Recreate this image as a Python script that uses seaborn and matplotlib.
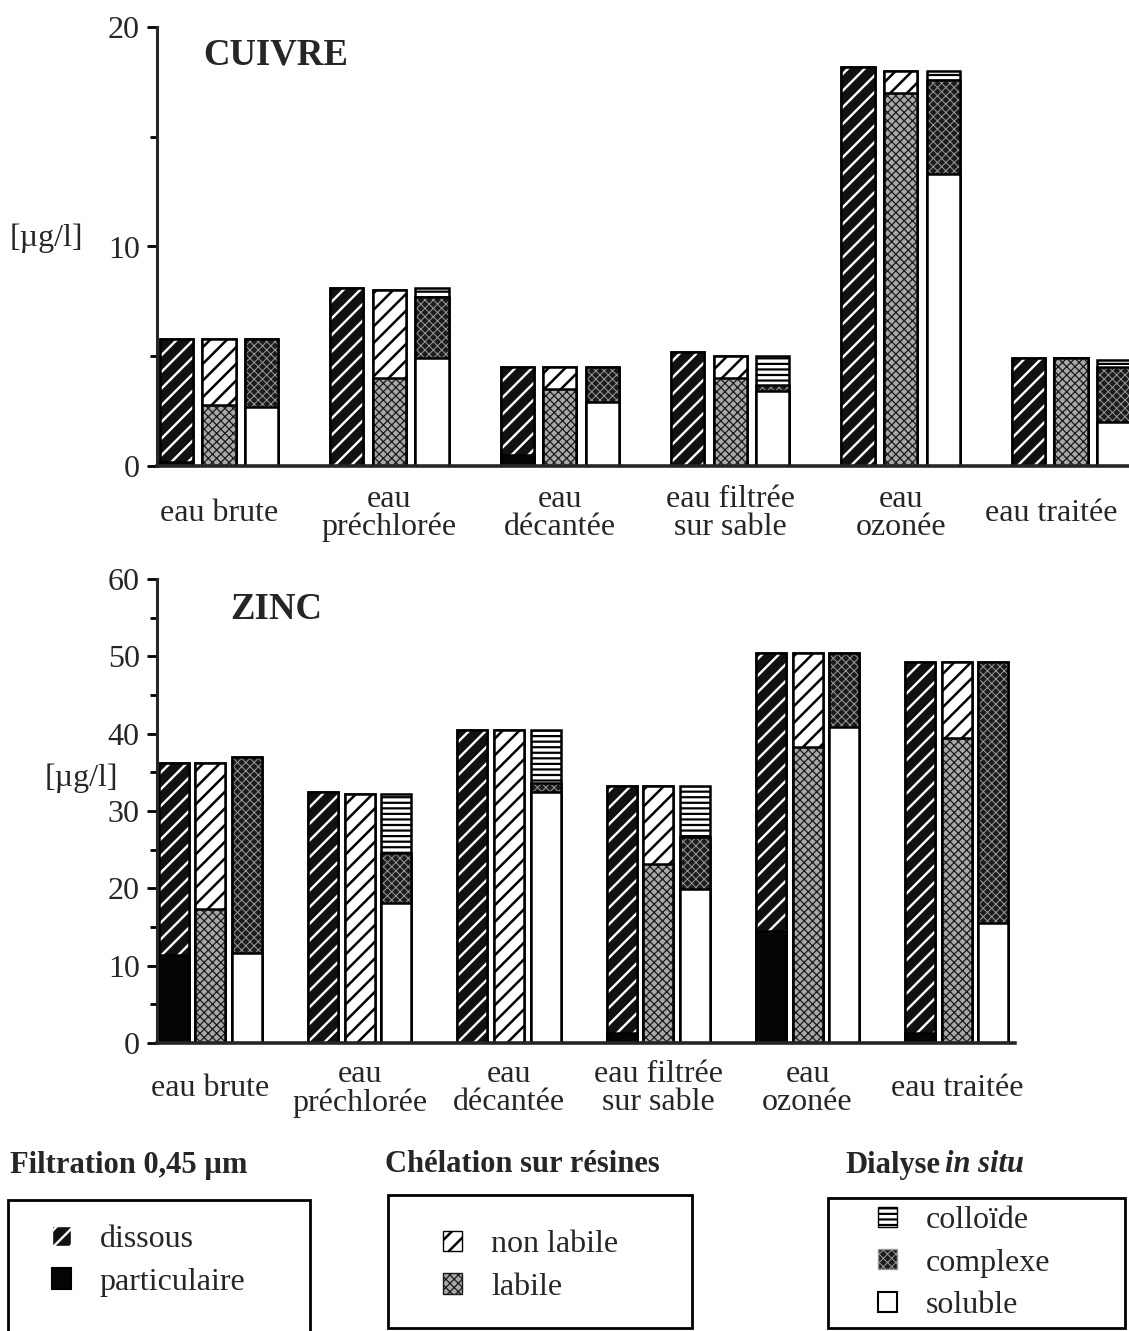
import numpy as np
import pandas as pd
import matplotlib
matplotlib.use('Agg')
import matplotlib.pyplot as plt
import matplotlib.transforms as mtransforms
import seaborn as sns
from matplotlib.patches import Patch, Rectangle

sns.set_theme(style='ticks')
plt.rcParams['font.family'] = ['Liberation Serif', 'DejaVu Serif']
plt.rcParams['hatch.linewidth'] = 1.8

# -------------------------------
# data (µg/l)
# -------------------------------
stations = ['eau brute', 'eau préchlorée', 'eau décantée',
            'eau filtrée sur sable', 'eau ozonée', 'eau traitée']
station_labels = ['eau brute', 'eau\npréchlorée', 'eau\ndécantée',
                  'eau filtrée\nsur sable', 'eau\nozonée', 'eau traitée']
methods = ['Filtration', 'Chélation', 'Dialyse']

# cuivre
cu_particulaire = [0.2, 0.0, 0.5, 0.0, 0.0, 0.0]
cu_dissous = [5.6, 8.1, 4.0, 5.2, 18.2, 4.9]
cu_labile = [2.8, 4.0, 3.5, 4.0, 17.0, 4.9]
cu_non_labile = [3.0, 4.0, 1.0, 1.0, 1.0, 0.0]
cu_soluble = [2.7, 4.9, 2.9, 3.4, 13.3, 2.0]
cu_complexe = [3.1, 2.8, 1.6, 0.3, 4.3, 2.5]
cu_colloide = [0.0, 0.4, 0.0, 1.3, 0.4, 0.35]

# zinc
zn_particulaire = [11.4, 0.0, 0.0, 1.3, 14.5, 1.3]
zn_dissous = [24.8, 32.5, 40.5, 31.9, 35.9, 48.0]
zn_labile = [17.3, 0.0, 0.0, 23.2, 38.3, 39.5]
zn_non_labile = [18.9, 32.2, 40.5, 10.0, 12.1, 9.8]
zn_soluble = [11.6, 18.1, 32.5, 19.9, 40.9, 15.5]
zn_complexe = [25.4, 6.5, 1.1, 6.8, 9.5, 33.8]
zn_colloide = [0.0, 7.6, 6.9, 6.5, 0.0, 0.0]

# fill styles: facecolour, hatch colour, hatch, hatch linewidth
styles = {
    'dissous': ('#111111', 'white', '//', 1.7),
    'particulaire': ('#050505', '#050505', None, 0),
    'non labile': ('white', 'black', '//', 1.8),
    'labile': ('#a8a8a8', '#1a1a1a', 'xxxx', 0.9),
    'colloïde': ('white', 'black', '---', 1.6),
    'complexe': ('#1c1c1c', '#9a9a9a', 'xxxx', 0.7),
    'soluble': ('white', 'white', None, 0),
}


def build_layers(parts):
    # cumulative heights per level, bottom component first
    rows = []
    for method, comps in parts.items():
        cum = np.zeros(len(stations))
        for level in range(3):
            if level < len(comps):
                comp, vals = comps[level]
                cum = cum + np.array(vals)
            else:
                comp = comps[-1][0]
            for st, v in zip(stations, cum):
                rows.append(dict(station=st, method=method, level=level,
                                 component=comp, value=v))
    return pd.DataFrame(rows)


def style_bar(bar, comp):
    fc, hc, hatch, hlw = styles[comp]
    bar.set_facecolor(fc)
    bar.set_edgecolor(hc)
    bar.set_linewidth(0)
    bar.set_hatch(hatch)
    if hatch and hasattr(bar, 'set_hatch_linewidth'):
        bar.set_hatch_linewidth(hlw)


def draw_metal(ax, df, width, gap):
    for level in [2, 1, 0]:
        sub = df[df.level == level]
        n0 = len(ax.containers)
        sns.barplot(data=sub, x='station', y='value', hue='method',
                    order=stations, hue_order=methods, width=width, gap=gap,
                    errorbar=None, legend=False, palette=['white'] * 3,
                    saturation=1, ax=ax)
        for container, method in zip(ax.containers[n0:], methods):
            comps = sub[sub.method == method].set_index('station').loc[stations, 'component']
            for bar, comp in zip(container, comps):
                style_bar(bar, comp)
        sns.barplot(data=sub, x='station', y='value', hue='method',
                    order=stations, hue_order=methods, width=width, gap=gap,
                    errorbar=None, legend=False, palette=['black'] * 3,
                    fill=False, linewidth=1.8, ax=ax)


def style_axis(ax, ymax, major, minor, xlim, label_pad):
    ax.set_ylim(0, ymax)
    ax.set_xlim(*xlim)
    ax.set_yticks(np.arange(0, ymax + 1, major))
    ax.set_yticks(np.arange(minor, ymax, minor), minor=True)
    ax.set_xticks(range(len(stations)), station_labels)
    ax.set_xlabel('')
    ax.set_ylabel('')
    sns.despine(ax=ax)
    ax.spines['left'].set_linewidth(2.2)
    ax.spines['bottom'].set_linewidth(2.6)
    ax.tick_params(axis='y', which='major', direction='out', length=7.5,
                   width=2, labelsize=23, pad=5, color='black')
    ax.tick_params(axis='y', which='minor', direction='out', length=5,
                   width=2, color='black')
    ax.tick_params(axis='x', length=0, labelsize=23, pad=label_pad)
    for lbl in ax.get_xticklabels():
        lbl.set_va('center')
        lbl.set_linespacing(0.95)
    ax.set_facecolor('white')


fig = plt.figure(figsize=(11.29, 13.31), dpi=100)
W, H = 1129, 1331

# -------------------------------
# CUIVRE
# -------------------------------
cu = build_layers({
    'Filtration': [('particulaire', cu_particulaire), ('dissous', cu_dissous)],
    'Chélation': [('labile', cu_labile), ('non labile', cu_non_labile)],
    'Dialyse': [('soluble', cu_soluble), ('complexe', cu_complexe), ('colloïde', cu_colloide)],
})
ax1 = fig.add_axes([157 / W, (H - 466) / H, (W - 157) / W, 439 / H])
draw_metal(ax1, cu, width=0.75, gap=0.22)
style_axis(ax1, 20, 10, 5, (-0.364, 5.34), 34)
# last label sits a little to the left in the original, so it stays in the frame
last = ax1.get_xticklabels()[-1]
last.set_transform(last.get_transform() +
                   mtransforms.ScaledTranslation(-20 / 100, 0, fig.dpi_scale_trans))

# -------------------------------
# ZINC
# -------------------------------
zn = build_layers({
    'Filtration': [('particulaire', zn_particulaire), ('dissous', zn_dissous)],
    'Chélation': [('labile', zn_labile), ('non labile', zn_non_labile)],
    'Dialyse': [('soluble', zn_soluble), ('complexe', zn_complexe), ('colloïde', zn_colloide)],
})
ax2 = fig.add_axes([157 / W, (H - 1043) / H, (1015 - 157) / W, 464 / H])
draw_metal(ax2, zn, width=0.735, gap=0.18)
style_axis(ax2, 60, 10, 5, (-0.358, 5.39), 33)

# titles and units
fig.text(203 / W, 1 - 55 / H, 'CUIVRE', fontsize=26.5, fontweight='bold', va='center')
fig.text(230 / W, 1 - 610 / H, 'ZINC', fontsize=26.5, fontweight='bold', va='center')
fig.text(10 / W, 1 - 238 / H, '[µg/l]', fontsize=23, va='center')
fig.text(45 / W, 1 - 778 / H, '[µg/l]', fontsize=23, va='center')

# -------------------------------
# legends
# -------------------------------
def handle(comp, label):
    fc, hc, hatch, hlw = styles[comp]
    if hatch is None:
        return Patch(facecolor=fc, edgecolor='black', linewidth=1.5, label=label)
    return Patch(facecolor=fc, edgecolor=hc, hatch=hatch, linewidth=1.0, label=label)


groups = [
    (10, 'Filtration 0,45 µm', (8, 1200, 310, 1340), 52, 1261,
     [('dissous', 'dissous'), ('particulaire', 'particulaire')]),
    (385, 'Chélation sur résines', (388, 1195, 692, 1328), 443, 1266,
     [('non labile', 'non labile'), ('labile', 'labile')]),
    (845, 'Dialyse', (828, 1198, 1125, 1328), 878, 1263,
     [('colloïde', 'colloïde'), ('complexe', 'complexe'), ('soluble', 'soluble')]),
]
for tx, title, (x0, y0, x1, y1), lx, ly, entries in groups:
    fig.text(tx / W, 1 - 1165 / H, title, fontsize=22, fontweight='bold', va='center')
    fig.add_artist(Rectangle((x0 / W, 1 - y1 / H), (x1 - x0) / W, (y1 - y0) / H,
                             transform=fig.transFigure, fill=False, lw=2, ec='black'))
    leg = fig.legend(handles=[handle(c, l) for c, l in entries], loc='center left',
                     bbox_to_anchor=(lx / W, 1 - ly / H), frameon=False, fontsize=23,
                     handlelength=0.6, handleheight=0.6, handletextpad=0.9,
                     labelspacing=0.42, borderpad=0, borderaxespad=0)
    for h, (comp, _) in zip(leg.legend_handles, entries):
        hlw = styles[comp][3]
        if hlw and hasattr(h, 'set_hatch_linewidth'):
            h.set_hatch_linewidth(hlw)
fig.text(945 / W, 1 - 1165 / H, 'in situ', fontsize=22, fontweight='bold',
         fontstyle='italic', va='center')

fig.savefig('out.png', dpi=100, facecolor='white')
